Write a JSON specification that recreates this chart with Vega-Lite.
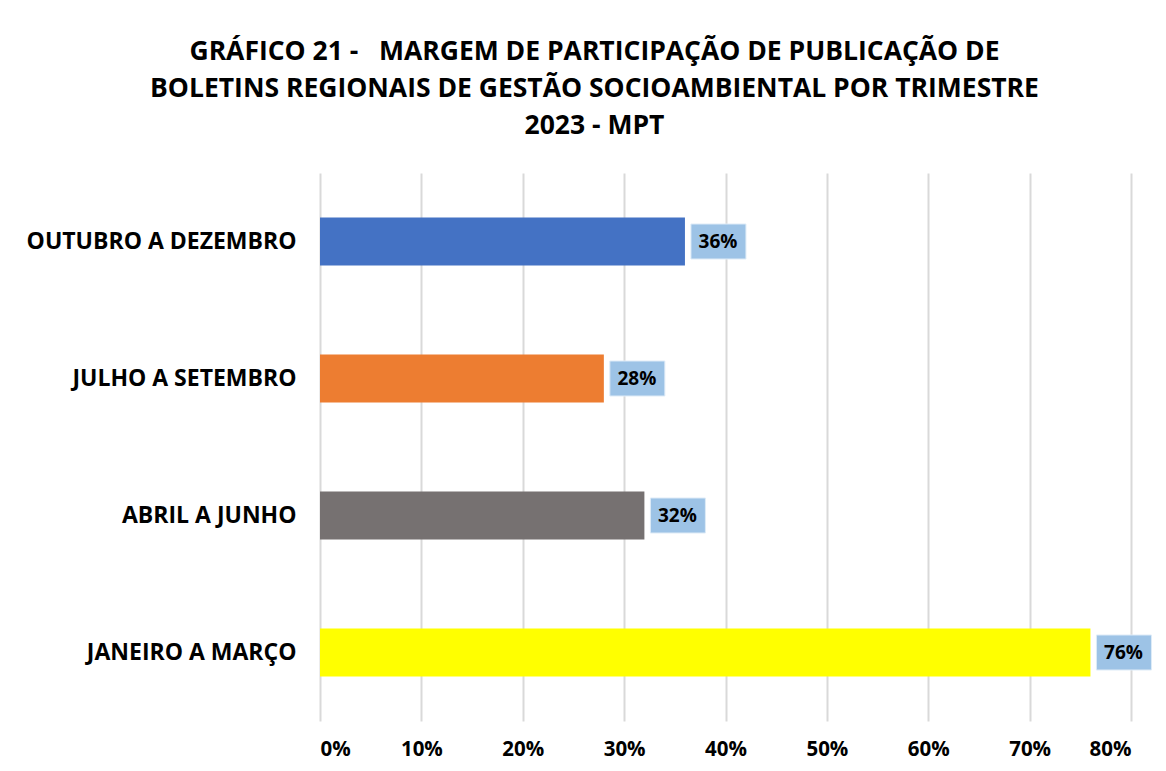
{
  "$schema": "https://vega.github.io/schema/vega-lite/v6.json",
  "width": 811,
  "height": 548,
  "autosize": {"type": "none"},
  "padding": {"left": 320, "top": 173, "right": 35, "bottom": 50},
  "background": "white",
  "title": {
    "text": ["GRÁFICO 21 -\u00a0\u00a0 MARGEM DE PARTICIPAÇÃO DE PUBLICAÇÃO DE", "BOLETINS REGIONAIS DE GESTÃO SOCIOAMBIENTAL POR TRIMESTRE", "2023 - MPT"],
    "anchor": "middle",
    "frame": "group",
    "dx": -131,
    "offset": 34,
    "font": "Open Sans",
    "fontSize": 26.5,
    "fontWeight": "bold",
    "color": "#000000",
    "lineHeight": 37
  },
  "data": {
    "values": [
      {"trimestre": "OUTUBRO A DEZEMBRO", "valor": 0.36, "cor": "#4472C4"},
      {"trimestre": "JULHO A SETEMBRO", "valor": 0.28, "cor": "#ED7D31"},
      {"trimestre": "ABRIL A JUNHO", "valor": 0.32, "cor": "#767171"},
      {"trimestre": "JANEIRO A MARÇO", "valor": 0.76, "cor": "#FFFF00"}
    ]
  },
  "encoding": {
    "y": {
      "field": "trimestre",
      "type": "nominal",
      "sort": ["OUTUBRO A DEZEMBRO", "JULHO A SETEMBRO", "ABRIL A JUNHO", "JANEIRO A MARÇO"],
      "scale": {"paddingInner": 0.65, "paddingOuter": 0.325},
      "axis": {
        "title": null,
        "domain": false,
        "ticks": false,
        "labelFont": "Open Sans",
        "labelFontSize": 23,
        "labelFontWeight": "bold",
        "labelColor": "#000000",
        "labelPadding": 24,
        "labelLimit": 400
      }
    }
  },
  "layer": [
    {
      "mark": {"type": "bar"},
      "encoding": {
        "x": {
          "field": "valor",
          "type": "quantitative",
          "scale": {"domain": [0, 0.8]},
          "axis": {
            "title": null,
            "format": ".0%",
            "values": [0, 0.1, 0.2, 0.3, 0.4, 0.5, 0.6, 0.7, 0.8],
            "domain": false,
            "ticks": false,
            "grid": true,
            "gridColor": "#D9D9D9",
            "gridWidth": 2,
            "labelFont": "Open Sans",
            "labelFontSize": 20.5,
            "labelFontWeight": "bold",
            "labelColor": "#000000",
            "labelPadding": 18
          }
        },
        "color": {"field": "cor", "type": "nominal", "scale": null, "legend": null}
      }
    },
    {
      "mark": {"type": "bar", "color": "#9DC3E6", "size": 35, "xOffset": 6, "x2Offset": 61, "stroke": "#DEEBF7", "strokeWidth": 1},
      "encoding": {
        "x": {"field": "valor", "type": "quantitative"},
        "x2": {"field": "valor"}
      }
    },
    {
      "mark": {"type": "text", "font": "Open Sans", "fontSize": 19, "fontWeight": "bold", "color": "#000000", "align": "center", "baseline": "middle", "dx": 33},
      "encoding": {
        "x": {"field": "valor", "type": "quantitative"},
        "text": {"field": "valor", "type": "quantitative", "format": ".0%"}
      }
    }
  ],
  "config": {
    "view": {"stroke": null}
  }
}
